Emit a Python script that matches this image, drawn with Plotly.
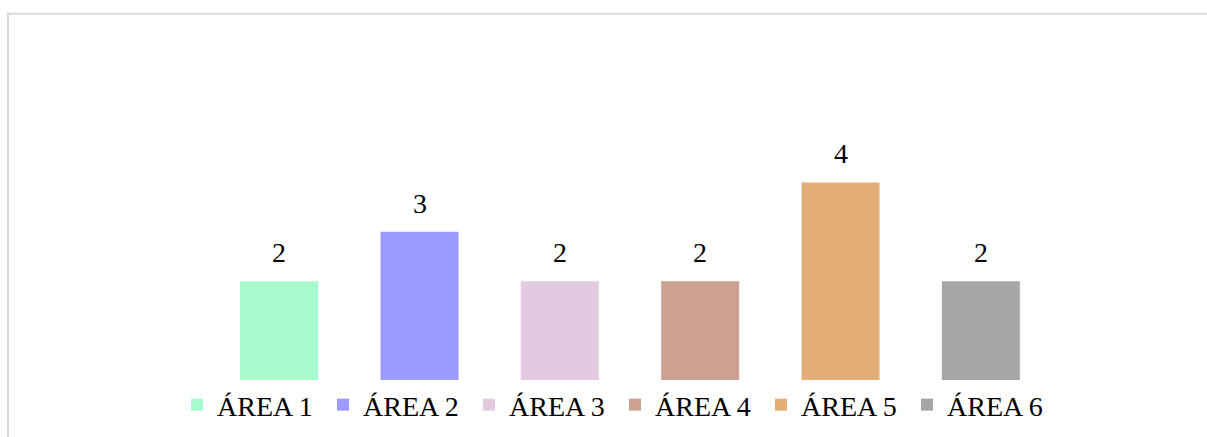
import plotly.graph_objects as go

categories = ["ÁREA 1", "ÁREA 2", "ÁREA 3", "ÁREA 4", "ÁREA 5", "ÁREA 6"]
values = [2, 3, 2, 2, 4, 2]
colors = ["#A6FACC", "#9B9BFF", "#E3CAE2", "#CDA292", "#E2AD76", "#A6A6A6"]

FONT = "Liberation Serif, Times New Roman, serif"

fig = go.Figure()
for cat, val, col in zip(categories, values, colors):
    fig.add_trace(go.Bar(
        x=[cat], y=[val], name=cat, marker=dict(color=col, line=dict(width=0)),
        width=0.556, hoverinfo="skip",
    ))
    fig.add_annotation(x=cat, y=val, text=str(val), showarrow=False,
                       yanchor="bottom", yshift=11,
                       font=dict(family=FONT, size=28, color="#000000"))

fig.update_layout(
    width=1207, height=437,
    margin=dict(l=209, r=156, t=133, b=57, autoexpand=False),
    paper_bgcolor="white", plot_bgcolor="white",
    barmode="overlay",
    showlegend=True,
    legend=dict(orientation="h", x=(177 - 209) / 842, xanchor="left", y=-0.101, yanchor="middle",
                entrywidth=101, entrywidthmode="pixels",
                font=dict(family=FONT, size=28, color="#000000"),
                itemclick=False, itemdoubleclick=False, traceorder="normal"),
    xaxis=dict(categoryorder="array", categoryarray=categories, showticklabels=False,
               showgrid=False, zeroline=False, showline=False, ticks=""),
    yaxis=dict(range=[0, 5], showticklabels=False, showgrid=False, zeroline=False,
               showline=False, ticks=""),
    shapes=[dict(type="rect", xref="paper", yref="paper",
                 x0=-0.2387, x1=1.6, y0=-1, y1=1.483,
                 line=dict(color="#D9D9D9", width=2), fillcolor="rgba(0,0,0,0)",
                 layer="below")],
)

fig.write_html("out.html")
